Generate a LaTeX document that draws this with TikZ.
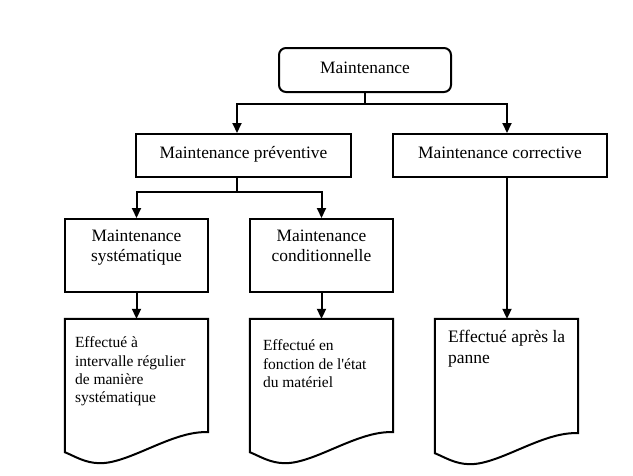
\documentclass[tikz,border=0pt]{standalone}
\usepackage{fontspec}
\newfontfamily\rawserif{Liberation Serif}
\usetikzlibrary{arrows.meta,calc}
\begin{document}
\begin{tikzpicture}[x=1pt,y=-1pt,
  line/.style={line width=2pt, black},
  box/.style={line, draw, rectangle, inner sep=0pt, font=\rawserif\fontsize{17.4}{20}\selectfont, text height=12pt, text depth=6pt},
  docarea/.style={rectangle, inner sep=0pt},
  arr/.style={line, -{Triangle[length=10pt,width=9pt]}, line join=miter},
  boxtext/.style={inner sep=0pt, align=center, anchor=north, font=\rawserif\fontsize{17.4}{20}\selectfont},
  doctext/.style={inner sep=0pt, align=left, anchor=north west, font=\rawserif\fontsize{15.5}{18.3}\selectfont},
]
\useasboundingbox (0,0) rectangle (633,475);
% boxes
\node[box, rounded corners=7pt, minimum width=172pt, minimum height=44pt] (m) at (365,70) {Maintenance};
\node[box, minimum width=215pt, minimum height=43pt] (p) at (243.5,155.5) {Maintenance préventive};
\node[box, minimum width=214pt, minimum height=43pt] (c) at (500,155.5) {Maintenance corrective};
\node[box, minimum width=143pt, minimum height=73pt] (s) at (136.5,255.5) {};
\node[box, minimum width=143pt, minimum height=73pt] (cb) at (321.5,255.5) {};
\node[boxtext] (st) at ([yshift=-12pt]s.north) {Maintenance\\systématique};
\node[boxtext] (cbt) at ([yshift=-12pt]cb.north) {Maintenance\\conditionnelle};
% document areas
\node[docarea, minimum width=143pt, minimum height=113pt] (sd) at (136.5,375.5) {};
\node[docarea, minimum width=143pt, minimum height=113pt] (cd) at (321.5,375.5) {};
\node[docarea, minimum width=143pt, minimum height=114pt] (kd) at (506.5,376) {};
\foreach \d in {sd,cd,kd}{
  \draw[line, line join=miter] (\d.north west) -- (\d.north east) -- (\d.south east)
    .. controls +(-35,-2) and +(30,0) .. ++(-108,31)
    .. controls +(-15,0) and +(10,4) .. ([yshift=-20pt]\d.south west) -- cycle;
}
\node[doctext] (sdt) at ([xshift=10pt,yshift=-18pt]sd.north west) {Effectué à\\intervalle régulier\\de manière\\systématique};
\node[doctext] (cdt) at ([xshift=13pt,yshift=-21pt]cd.north west) {Effectué en\\fonction de l'état\\du matériel};
\node[doctext, font=\rawserif\fontsize{17.5}{21}\selectfont] (kdt) at ([xshift=13pt,yshift=-11pt]kd.north west) {Effectué après la\\panne};
% connectors
\coordinate (mj) at ([yshift=-11pt]m.south);
\coordinate (pin) at ([xshift=-6.5pt]p.north);
\coordinate (cin) at ([xshift=7pt]c.north);
\coordinate (pout) at ([xshift=-6.5pt]p.south);
\coordinate (cout) at ([xshift=7pt]c.south);
\draw[arr] (m.south) -- (mj) -| (pin);
\draw[arr] (m.south) -- (mj) -| (cin);
\draw[arr] (pout) -- ++(0,14) -| (s.north);
\draw[arr] (pout) -- ++(0,14) -| (cb.north);
\draw[arr] (s.south) -- (sd.north);
\draw[arr] (cb.south) -- (cd.north);
\draw[arr] (cout) -- (kd.north -| cout);
\end{tikzpicture}
\end{document}
